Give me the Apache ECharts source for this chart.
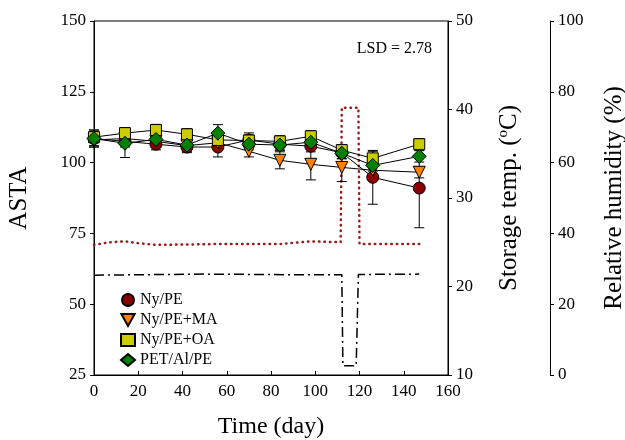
<!DOCTYPE html>
<html>
<head>
<meta charset="utf-8">
<script src="https://cdn.jsdelivr.net/npm/echarts@6/dist/echarts.min.js"></script>
<style>
html,body{margin:0;padding:0;background:#fff;}
#chart{width:625px;height:440px;}
</style>
</head>
<body>
<div id="chart"></div>
<script>
// storage days
var days = [0, 14, 28, 42, 56, 70, 84, 98, 112, 126, 147];
// ASTA per package
var nyPE    = [108.5, 107.5, 106.5, 105.5, 105.5, 108, 106.5, 105.8, 103.5, 94.8, 91];
var nyPEMA  = [108, 108.5, 107.5, 106, 107, 104, 100.8, 99.4, 98.3, 97.3, 96.6];
var nyPEOA  = [109, 110.4, 111.5, 110, 108, 107.8, 107.5, 109.3, 104.4, 101.5, 106.5];
var petAlPE = [108.5, 106.8, 108.2, 106.2, 110.4, 106.5, 106.2, 107.2, 103.3, 99, 102.2];
// error (+/-)
var errPE   = [3, 2, 2, 2, 3.5, 2.5, 2, 2, 2, 9.5, 14];
var errMA   = [2, 2, 2, 2, 2, 2, 3, 5.5, 5, 3, 2];
var errOA   = [2, 2, 2, 2, 2, 2, 2, 2, 2, 2.5, 2];
var errPET  = [3, 5, 2, 2, 3, 2, 2, 2, 2, 2, 2];
// storage temp (day, C)
var tempDay = [0, 7, 14, 20, 28, 42, 56, 70, 84, 98, 111.5, 112, 119.5, 120, 147];
var tempVal = [24.7, 25.0, 25.1, 24.9, 24.7, 24.75, 24.8, 24.8, 24.8, 25.1, 25.0, 40.2, 40.2, 24.8, 24.8];
// relative humidity (day, %)
var rhDay = [0, 50, 98, 112, 112.5, 118.5, 119.5, 147];
var rhVal = [28.2, 28.5, 28.3, 28.3, 2.6, 2.6, 28.4, 28.5];

var names = ['Ny/PE', 'Ny/PE+MA', 'Ny/PE+OA', 'PET/Al/PE'];
var vals = [nyPE, nyPEMA, nyPEOA, petAlPE];
var errs = [errPE, errMA, errOA, errPET];
var colors = ['#8b0000', '#ff8000', '#cccc00', '#008000'];
var triDown = 'path://M0,0 L10,0 L5,9 Z';
var symbols = ['circle', triDown, 'rect', 'diamond'];
var sizes = [12, 12, 11, 14];

var font = 'Liberation Serif';

function zip(a, b){
    return a.map(function(v, i){ return [v, b[i]]; });
}

var series = [];
for (var k = 0; k < 4; k++) {
    (function(k){
        series.push({
            type: 'custom',
            xAxisIndex: 0,
            yAxisIndex: 0,
            silent: true,
            z: 2,
            data: days.map(function(d, i){ return [d, vals[k][i] - errs[k][i], vals[k][i] + errs[k][i]]; }),
            renderItem: function(params, api){
                var lo = api.coord([api.value(0), api.value(1)]);
                var hi = api.coord([api.value(0), api.value(2)]);
                var w = 5;
                var st = {stroke: '#000', lineWidth: 1};
                return {type: 'group', children: [
                    {type: 'line', shape: {x1: lo[0], y1: lo[1], x2: hi[0], y2: hi[1]}, style: st},
                    {type: 'line', shape: {x1: lo[0]-w, y1: lo[1], x2: lo[0]+w, y2: lo[1]}, style: st},
                    {type: 'line', shape: {x1: hi[0]-w, y1: hi[1], x2: hi[0]+w, y2: hi[1]}, style: st}
                ]};
            }
        });
    })(k);
}
for (var k = 0; k < 4; k++) {
    series.push({
        name: names[k],
        type: 'line',
        xAxisIndex: 0,
        yAxisIndex: 0,
        z: 3,
        data: zip(days, vals[k]),
        symbol: symbols[k],
        symbolSize: sizes[k],
        itemStyle: {color: colors[k], borderColor: '#000', borderWidth: 1},
        lineStyle: {color: '#000', width: 1},
        emphasis: {disabled: true}
    });
}
series.push({
    name: 'temp',
    type: 'line',
    yAxisIndex: 1,
    data: zip(tempDay, tempVal),
    showSymbol: false,
    symbol: 'none',
    z: 1,
    lineStyle: {color: '#9b1b1b', width: 2.5, type: [0.5, 5], cap: 'round'}
});
series.push({
    name: 'rh',
    type: 'line',
    yAxisIndex: 2,
    data: zip(rhDay, rhVal),
    showSymbol: false,
    symbol: 'none',
    z: 1,
    lineStyle: {color: '#000', width: 1.5, type: [10, 4, 2, 4]}
});

var chart = echarts.init(document.getElementById('chart'));
chart.setOption({
    animation: false,
    textStyle: {fontFamily: font},
    grid: {left: 94, right: 177, top: 21, bottom: 65, show: true, borderColor: '#000', borderWidth: 1,
           containLabel: false, outerBoundsMode: 'none'},
    legend: {
        orient: 'vertical',
        left: 115,
        top: 287,
        itemWidth: 14,
        itemHeight: 12,
        itemGap: 4,
        textStyle: {fontFamily: font, fontSize: 16, lineHeight: 16, color: '#000'},
        data: [
            {name: names[0], icon: 'circle'},
            {name: names[1], icon: triDown},
            {name: names[2], icon: 'rect'},
            {name: names[3], icon: 'diamond'}
        ]
    },
    graphic: [{
        type: 'text',
        right: 193,
        top: 41,
        style: {text: 'LSD = 2.78', font: '16px "Liberation Serif"', fill: '#000'}
    }],
    xAxis: {
        type: 'value',
        min: 0, max: 160, interval: 20,
        name: 'Time (day)',
        nameLocation: 'middle',
        nameGap: 40,
        nameTextStyle: {fontFamily: font, fontSize: 24, color: '#000'},
        axisLine: {lineStyle: {color: '#000'}},
        axisTick: {inside: true, length: 4, lineStyle: {color: '#000'}},
        axisLabel: {fontFamily: font, fontSize: 17, color: '#000', margin: 8},
        splitLine: {show: false}
    },
    yAxis: [{
        type: 'value',
        min: 25, max: 150, interval: 25,
        name: 'ASTA',
        nameLocation: 'middle',
        nameGap: 62,
        nameTextStyle: {fontFamily: font, fontSize: 25, color: '#000'},
        axisLine: {show: true, lineStyle: {color: '#000'}},
        axisTick: {length: 4, lineStyle: {color: '#000'}},
        axisLabel: {fontFamily: font, fontSize: 17, color: '#000', margin: 8},
        splitLine: {show: false}
    }, {
        type: 'value',
        position: 'right',
        min: 10, max: 50, interval: 10,
        name: 'Storage temp. ({s|o}C)',
        nameLocation: 'middle',
        nameGap: 48,
        nameRotate: 90,
        nameTextStyle: {
            fontFamily: font, fontSize: 25, color: '#000',
            rich: {s: {fontFamily: font, fontSize: 15, color: '#000', verticalAlign: 'top', padding: [0, 0, 12, 0]}}
        },
        axisLine: {show: true, lineStyle: {color: '#000'}},
        axisTick: {length: 4, lineStyle: {color: '#000'}},
        axisLabel: {fontFamily: font, fontSize: 17, color: '#000', margin: 8},
        splitLine: {show: false}
    }, {
        type: 'value',
        position: 'right',
        offset: 102,
        min: 0, max: 100, interval: 20,
        name: 'Relative humidity (%)',
        nameLocation: 'middle',
        nameGap: 52,
        nameRotate: 90,
        nameTextStyle: {fontFamily: font, fontSize: 25, color: '#000'},
        axisLine: {show: true, lineStyle: {color: '#000'}},
        axisTick: {length: 4, lineStyle: {color: '#000'}},
        axisLabel: {fontFamily: font, fontSize: 17, color: '#000', margin: 8},
        splitLine: {show: false}
    }],
    series: series
});
</script>
</body>
</html>
